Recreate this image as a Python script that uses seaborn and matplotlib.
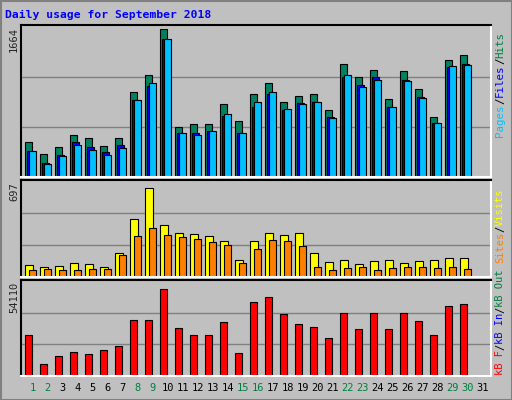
import matplotlib
matplotlib.use("Agg")
import matplotlib.pyplot as plt
import seaborn as sns
import numpy as np

sns.set_style("white")
plt.rcParams['font.family'] = ['DejaVu Sans Mono']

days = list(range(1, 32))
hits = [388,255,333,466,433,344,433,943,1131,1631,555,588,588,810,621,921,1043,832,899,921,743,1253,1109,1187,865,1176,976,666,1298,1353,0]
files = [288,155,244,388,333,277,355,854,1009,1531,488,488,510,677,484,777,921,743,821,832,662,1109,1020,1109,777,1076,888,599,1220,1253,0]
pages = [288,144,233,355,300,244,322,854,1043,1531,488,466,510,699,488,832,943,754,810,832,654,1131,998,1076,777,1065,876,599,1231,1242,0]
visits = [84,70,77,98,91,70,175,420,645,378,322,315,301,259,126,259,322,308,322,175,112,126,91,119,126,105,119,126,140,140,0]
sites = [49,56,49,49,56,56,161,301,357,308,287,273,252,231,98,203,266,259,224,70,49,63,70,49,63,70,70,63,70,56,0]
kbytes = [23060,6718,11620,13800,12710,14890,17070,31780,31780,49750,27420,23600,23060,30690,13250,42130,44850,35040,29600,27960,21430,36130,26870,35590,26870,35590,31230,23600,39950,41040,0]
weekend = [1,2,8,9,15,16,22,23,29,30]
max_top, max_mid, max_bot = 1664, 697, 54110

BG = '#c0c0c0'
fig = plt.figure(figsize=(5.12, 4.0), dpi=100, facecolor=BG)
W, H = 512, 400
def axrect(y0, y1):
    return [21/W, 1-y1/H, 470/W, (y1-y0)/H]
axs = [fig.add_axes(axrect(25, 177)), fig.add_axes(axrect(180, 277)), fig.add_axes(axrect(280, 376))]
u = 1/15
x0 = np.array(days) - 1
for ax, m in zip(axs, [max_top, max_mid, max_bot]):
    ax.set_facecolor(BG)
    ax.set_xlim(-4*u, 470*u - 4*u)
    ax.set_ylim(0, m*1.01)
    for f in (1/3, 2/3):
        ax.axhline(m*f, color='#808080', lw=1, zorder=0)
    ax.set_xticks([]); ax.set_yticks([])
    for s in ['left', 'top']:
        ax.spines[s].set_color('black')
    for s in ['right', 'bottom']:
        ax.spines[s].set_color('white')
    for s in ax.spines.values():
        s.set_linewidth(1.5)

kw = dict(align='edge', edgecolor='black', linewidth=0.8)
axs[0].bar(x0, hits, width=7*u, color='#008060', **kw)
axs[0].bar(x0+2*u, files, width=7*u, color='#0000ff', **kw)
axs[0].bar(x0+4*u, pages, width=7*u, color='#00c0ff', **kw)
axs[1].bar(x0, visits, width=8*u, color='#ffff00', **kw)
axs[1].bar(x0+4*u, sites, width=7*u, color='#ff8000', **kw)
axs[2].bar(x0, kbytes, width=7*u, color='#ff0000', **kw)

# outer 3D frame
fig.add_artist(plt.Rectangle((0.5/W, 0.5/H), 1-1/W, 1-1/H, transform=fig.transFigure,
                             fill=False, edgecolor='#808080', lw=1.5))

fig.text(5/W, 1-15/H, "Daily usage for September 2018", color='#0000ff',
         fontsize=8.2, fontweight='bold', va='center', ha='left')
for y, lab in [(27, str(max_top)), (182, str(max_mid)), (282, str(max_bot))]:
    fig.text(14/W, 1-y/H, lab, rotation=90, ha='center', va='top', fontsize=7.5)
for d in days:
    fig.text((21 + 4 + 15*(d-1) + 7.5)/W, 1-388/H, str(d), ha='center', va='center',
             fontsize=7.5, color='#008040' if d in weekend else 'black')

def vlabel(y_start, parts, adv=6.6, fs=7.8):
    y = y_start
    for txt, c in parts:
        fig.text(500/W, 1-y/H, txt, rotation=90, ha='center', va='bottom', color=c, fontsize=fs)
        y -= adv*len(txt)

vlabel(137, [("Pages", '#00c0ff'), ("/", 'black'), ("Files", '#0000ff'), ("/", 'black'), ("Hits", '#008040')])
vlabel(375, [("kB F", '#ff0000'), ("/", 'black'), ("kB In", '#0000ff'), ("/", 'black'),
             ("kB Out", '#008040'), (" ", 'black'), ("Sites", '#ff8000'), ("/", 'black'), ("Visits", '#ffff00')],
       adv=6.2, fs=7.5)

fig.savefig("out.png", dpi=100, facecolor=BG)
